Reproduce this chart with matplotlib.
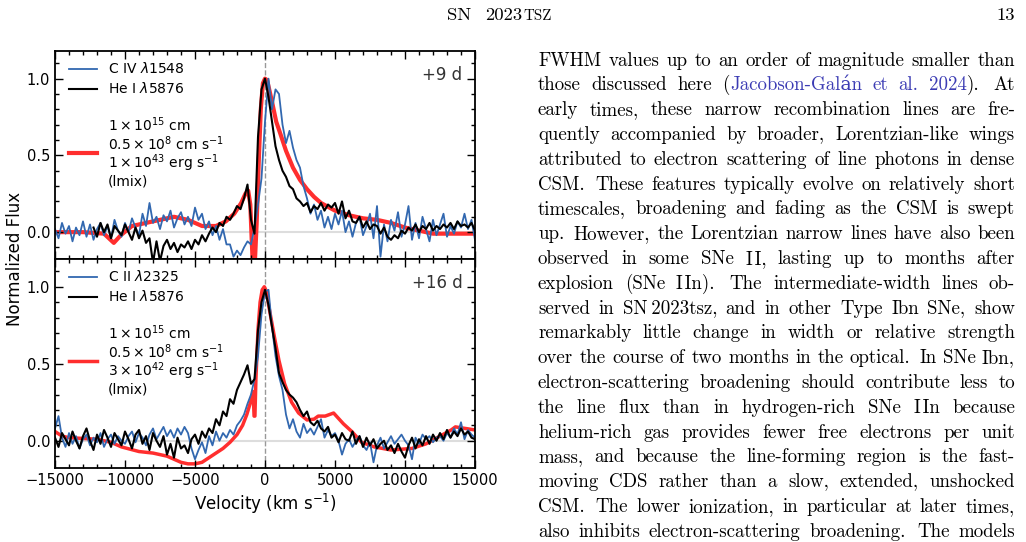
import re
import numpy as np
import matplotlib
matplotlib.use('Agg')
import matplotlib.pyplot as plt
from matplotlib.lines import Line2D
from matplotlib.ticker import MultipleLocator

# ---------------- data ----------------
vel_obs = np.arange(-15000, 15001, 250)

civ_9d = [
    0.02, -0.04, 0.06, -0.01, 0.04, -0.06, 0.03, -0.02, 0.07, -0.03,
    0.05, -0.05, 0.02, 0.06, -0.02, 0.04, -0.04, 0.08, 0.01, -0.03,
    0.06, 0.00, 0.09, 0.03, -0.02, 0.12, 0.04, 0.19, 0.06, 0.10,
    0.02, 0.11, 0.07, 0.14, 0.03, 0.09, 0.13, 0.05, 0.10, 0.04,
    0.16, 0.08, 0.12, 0.02, 0.07, -0.02, 0.04, -0.05, 0.02, -0.08,
    -0.08, -0.16, -0.12, -0.15, -0.10, -0.06, -0.08, 0.03, 0.18, 0.35,
    0.72, 1.00, 0.80, 0.93, 0.90, 0.70, 0.58, 0.66, 0.55, 0.47,
    0.42, 0.30, 0.22, 0.12, 0.18, 0.08, 0.14, 0.03, 0.10, 0.02,
    0.12, 0.05, 0.14, 0.00, 0.07, -0.03, 0.06, 0.10, -0.02, 0.04,
    0.12, -0.04, 0.17, -0.16, 0.05, -0.06, 0.08, 0.01, 0.13, -0.03,
    0.05, 0.17, -0.05, 0.06, -0.04, 0.10, 0.02, -0.06, 0.08, -0.02,
    0.05, 0.12, -0.03, 0.04, -0.01, 0.07, 0.03, 0.12, 0.02, 0.08,
    -0.05,
]

hei_9d = [
    np.nan, np.nan, np.nan, np.nan, np.nan, np.nan, np.nan, np.nan, np.nan, np.nan,
    np.nan, 0.03, -0.03, 0.06, 0.00, 0.05, -0.04, 0.04, 0.01, -0.02,
    0.05, 0.00, -0.05, 0.03, -0.04, 0.01, -0.07, -0.04, -0.20, -0.06,
    -0.19, -0.09, -0.05, -0.11, -0.07, -0.13, -0.08, -0.10, -0.06, -0.11,
    -0.05, -0.08, -0.02, -0.06, -0.01, 0.03, 0.00, 0.06, 0.04, 0.10,
    0.08, 0.12, 0.17, 0.15, 0.22, 0.31, 0.08, -0.01, 0.62, 0.93,
    1.00, 0.88, 0.72, 0.56, 0.47, 0.40, 0.36, 0.30, 0.28, 0.22,
    0.20, 0.17, 0.19, 0.13, 0.17, 0.15, 0.19, 0.14, 0.18, 0.16,
    0.19, 0.12, 0.20, 0.09, 0.14, 0.07, 0.06, 0.10, 0.03, 0.07,
    0.02, 0.05, 0.04, -0.01, 0.03, -0.03, -0.05, -0.02, -0.04, 0.01,
    -0.01, 0.03, 0.01, 0.05, 0.00, 0.04, 0.02, 0.06, 0.01, 0.04,
    0.02, 0.05, 0.03, 0.06, 0.02, 0.07, 0.04, 0.05, 0.03, 0.06,
    0.01,
]

vel_mod_9d = [-15000, -13000, -11500, -10800, -10300, -9500, -8000, -6500, -5500,
              -4500, -3500, -2800, -2200, -1700, -1400, -1200, -1050, -950, -850,
              -750, -600, -450, -300, -150, 0, 150, 300, 500, 800, 1100, 1500,
              2000, 2500, 3000, 3500, 4000, 5000, 6000, 7000, 8000, 9000, 10000,
              11000, 12000, 13000, 14000, 15000]
mod_9d = [0.00, 0.00, -0.01, -0.07, -0.02, 0.04, 0.07, 0.10, 0.08,
          0.04, 0.04, 0.07, 0.12, 0.19, 0.25, 0.27, 0.18, -0.05, -0.25,
          -0.25, 0.05, 0.45, 0.80, 0.97, 1.00, 0.99, 0.93, 0.85, 0.72, 0.64, 0.53,
          0.42, 0.34, 0.28, 0.23, 0.19, 0.14, 0.11, 0.09, 0.08, 0.06, 0.03,
          0.01, -0.01, -0.01, -0.01, -0.01]

cii_16d = [
    0.08, 0.16, 0.02, -0.04, 0.05, -0.02, 0.03, -0.05, 0.01, 0.04,
    -0.03, 0.02, -0.01, 0.05, -0.04, 0.01, 0.04, -0.02, 0.03, 0.00,
    -0.02, 0.03, 0.06, -0.01, 0.05, 0.02, -0.03, 0.04, 0.08, 0.01,
    0.05, 0.09, 0.03, 0.07, 0.02, 0.08, 0.04, 0.09, 0.05, -0.05,
    -0.12, -0.06, -0.01, -0.08, 0.03, -0.03, 0.06, 0.00, 0.05, 0.02,
    0.07, 0.04, 0.10, 0.13, 0.17, 0.24, 0.30, 0.40, 0.55, 0.82,
    0.97, 0.98, 0.74, 0.55, 0.42, 0.33, 0.17, 0.08, 0.14, 0.06,
    0.02, 0.11, 0.05, 0.08, 0.04, 0.09, 0.14, 0.02, 0.07, 0.03,
    0.05, 0.00, -0.09, -0.02, 0.01, -0.04, 0.00, 0.03, -0.03, -0.06,
    -0.01, -0.14, -0.03, 0.02, -0.05, -0.01, 0.03, -0.02, 0.01, 0.04,
    0.00, -0.03, -0.12, 0.02, -0.02, 0.04, 0.01, 0.03, -0.01, 0.02,
    0.03, 0.00, 0.05, 0.02, 0.08, 0.04, 0.12, 0.01, 0.07, 0.04,
    0.02,
]

hei_16d = [
    0.02, -0.04, 0.05, 0.01, -0.03, 0.06, 0.00, -0.05, 0.03, 0.08,
    0.00, -0.06, 0.04, -0.02, 0.07, 0.02, -0.04, 0.05, 0.01, -0.03,
    0.06, 0.01, -0.05, 0.04, 0.07, -0.02, 0.03, -0.06, 0.05, 0.00,
    -0.04, 0.03, -0.09, -0.02, -0.11, 0.02, -0.05, -0.03, -0.08, 0.01,
    0.04, -0.02, 0.06, 0.02, 0.08, 0.05, 0.14, 0.10, 0.19, 0.16,
    0.27, 0.24, 0.33, 0.38, 0.43, 0.49, 0.37, 0.40, 0.72, 0.90,
    0.98, 0.88, 0.74, 0.60, 0.44, 0.38, 0.33, 0.30, 0.28, 0.25,
    0.20, 0.16, 0.19, 0.12, 0.10, 0.13, 0.08, 0.06, 0.09, 0.02,
    0.04, -0.01, 0.05, 0.01, 0.00, 0.06, -0.02, 0.03, -0.04, 0.02,
    -0.03, 0.01, -0.05, -0.02, 0.00, -0.06, -0.03, -0.08, -0.02, -0.07,
    -0.11, -0.03, 0.02, -0.05, 0.01, -0.03, 0.03, -0.02, 0.04, 0.00,
    0.05, 0.01, 0.07, 0.02, 0.06, 0.03, 0.08, 0.04, 0.06, 0.02,
    0.01,
]

vel_mod_16d = [-15000, -14500, -14000, -13000, -12000, -11000, -10250, -9000, -8000,
               -7000, -6000, -5500, -5000, -4500, -4000, -3500, -3000, -2500, -2000,
               -1600, -1300, -1000, -850, -780, -720, -650, -500, -350, -200, -50,
               100, 300, 500, 700, 1000, 1400, 1900, 2400, 3000, 3500, 3800, 4300,
               4600, 4900, 5200, 5600, 6200, 6900, 7800, 9000, 10500, 11500, 12500,
               13300, 13600, 14300, 15000]
mod_16d = [0.06, 0.03, 0.02, 0.015, 0.01, -0.01, -0.04, -0.07, -0.08,
           -0.10, -0.14, -0.15, -0.15, -0.14, -0.11, -0.08, -0.05, -0.01, 0.04,
           0.10, 0.17, 0.26, 0.32, 0.16, 0.16, 0.40, 0.72, 0.90, 0.98, 1.00,
           0.97, 0.86, 0.76, 0.66, 0.52, 0.37, 0.25, 0.18, 0.135, 0.14, 0.16, 0.16,
           0.17, 0.18, 0.15, 0.11, 0.06, -0.01, -0.04, -0.06, -0.05, -0.02, 0.03,
           0.07, 0.09, 0.08, 0.07]

uv_labels = ['C IV $\\lambda$1548', 'C II $\\lambda$2325']
opt_label = 'He I $\\lambda$5876'
model_labels = [
    '$1 \\times 10^{15}$ cm\n$0.5 \\times 10^{8}$ cm s$^{-1}$\n$1 \\times 10^{43}$ erg s$^{-1}$\n(lmix)',
    '$1 \\times 10^{15}$ cm\n$0.5 \\times 10^{8}$ cm s$^{-1}$\n$3 \\times 10^{42}$ erg s$^{-1}$\n(lmix)',
]
epochs = ['+9 d', '+16 d']

body_lines = [
    "FWHM values up to an order of magnitude smaller than",
    "those discussed here ([Jacobson-Galán] [et] [al.] [2024]). At",
    "early times, these narrow recombination lines are fre-",
    "quently accompanied by broader, Lorentzian-like wings",
    "attributed to electron scattering of line photons in dense",
    "CSM. These features typically evolve on relatively short",
    "timescales, broadening and fading as the CSM is swept",
    "up. However, the Lorentzian narrow lines have also been",
    "observed in some SNe II, lasting up to months after",
    "explosion (SNe IIn). The intermediate-width lines ob-",
    "served in SN\u20092023tsz, and in other Type Ibn SNe, show",
    "remarkably little change in width or relative strength",
    "over the course of two months in the optical. In SNe Ibn,",
    "electron-scattering broadening should contribute less to",
    "the line flux than in hydrogen-rich SNe IIn because",
    "helium-rich gas provides fewer free electrons per unit",
    "mass, and because the line-forming region is the fast-",
    "moving CDS rather than a slow, extended, unshocked",
    "CSM. The lower ionization, in particular at later times,",
    "also inhibits electron-scattering broadening. The models",
]

# ---------------- figure ----------------
W, H = 1026, 542
fig = plt.figure(figsize=(W / 100, H / 100), dpi=100)
fig.patch.set_facecolor('white')


def fx(px):
    return px / W


def fy(py):
    return 1 - py / H


BLUE = '#3268b0'
RED = '#ff2e2e'
SERIF = ['cmr10', 'DejaVu Serif']
CITE = '#3c3cb4'

ax1 = fig.add_axes([fx(55), fy(259), fx(475) - fx(55), fy(51) - fy(259)])
ax2 = fig.add_axes([fx(55), fy(467.7), fx(475) - fx(55), fy(259) - fy(467.7)])

panels = [
    (ax1, civ_9d, hei_9d, vel_mod_9d, mod_9d, 3.0),
    (ax2, cii_16d, hei_16d, vel_mod_16d, mod_16d, 2.5),
]

for k, (ax, uv, he, vm, mod, rlw) in enumerate(panels):
    ax.axhline(0, color='#dddddd', lw=1.5, zorder=0)
    ax.axvline(0, color='#999999', ls='--', lw=1.0, zorder=0.5)
    lr, = ax.plot(vm, mod, color=RED, lw=rlw, zorder=1)
    lb, = ax.plot(vel_obs, uv, color=BLUE, lw=1.3, zorder=2)
    lk, = ax.plot(vel_obs, he, color='k', lw=1.5, zorder=3)
    blank = Line2D([], [], color='none')
    leg = ax.legend([lb, lk, blank, lr], [uv_labels[k], opt_label, ' ', model_labels[k]],
                    loc='upper left', bbox_to_anchor=(0.016, 0.99), frameon=False,
                    fontsize=10, handlelength=2.0, handleheight=0.3, handletextpad=0.8,
                    labelspacing=0.38, borderpad=0.05)
    texts = leg.get_texts()
    texts[2].set_fontsize(3)
    texts[3].set_linespacing(1.0)
    ax.text(0.97, 0.885, epochs[k], transform=ax.transAxes, ha='right', va='center',
            fontsize=12, color='#333333')

    ax.set_xlim(-15000, 15000)
    ax.set_ylim(-0.175, 1.18)
    ax.xaxis.set_major_locator(MultipleLocator(5000))
    ax.xaxis.set_minor_locator(MultipleLocator(1000))
    ax.yaxis.set_major_locator(MultipleLocator(0.5))
    ax.yaxis.set_minor_locator(MultipleLocator(0.1))
    ax.tick_params(which='both', direction='in', top=True, right=True, labelsize=10.5)
    ax.tick_params(which='major', length=6, width=1)
    ax.tick_params(which='minor', length=3, width=1)
    for s in ax.spines.values():
        s.set_linewidth(1.3)

ax1.tick_params(labelbottom=False)
ax2.set_xlabel('Velocity (km s$^{-1}$)', fontsize=12, labelpad=3)
fig.text(fx(15), fy(259), 'Normalized Flux', rotation=90, ha='center', va='center',
         fontsize=12)

# ---------------- page text ----------------
renderer = fig.canvas.get_renderer()


def put(x, y, s, size, color='k'):
    t = fig.text(fx(x), fy(y), s, fontsize=size, family=SERIF, color=color,
                 ha='left', va='baseline')
    return t, t.get_window_extent(renderer).width


put(446.7, 20, 'SN', 13.4)
_, w2023 = put(485.0, 20, '2023', 13.4)
put(485.0 + w2023 + 1.0, 20, 'TSZ', 10.8)
fig.text(fx(1015), fy(20), '13', fontsize=13.4, family=SERIF, ha='right', va='baseline')

x_left, x_right = 538.0, 1015.0
base0, step = 65.5, 24.8
size = 13.6
for i, line in enumerate(body_lines):
    y = base0 + step * i
    words = []
    for word in line.split(' '):
        word = word.replace('II', 'I\u200aI')
        segs = []
        for part in re.split(r'(\[[^\]]*\])', word):
            if not part:
                continue
            if part.startswith('['):
                segs.append((part[1:-1], CITE))
            else:
                segs.append((part, 'k'))
        arts = []
        wsum = 0
        for s, c in segs:
            a, aw = put(0, y, s, size, c)
            arts.append((a, wsum))
            wsum += aw
        words.append((word, arts, wsum))
    total = sum(w for _, _, w in words)
    weights = [1.35 if words[j][0].endswith('.') else 1.0 for j in range(len(words) - 1)]
    gap = (x_right - x_left - total) / sum(weights)
    x = x_left
    for j, (word, arts, wsum) in enumerate(words):
        for a, off in arts:
            a.set_x(fx(x + off))
        x += wsum
        if j < len(weights):
            x += gap * weights[j]

fig.savefig('out.png', dpi=100, facecolor='white')
